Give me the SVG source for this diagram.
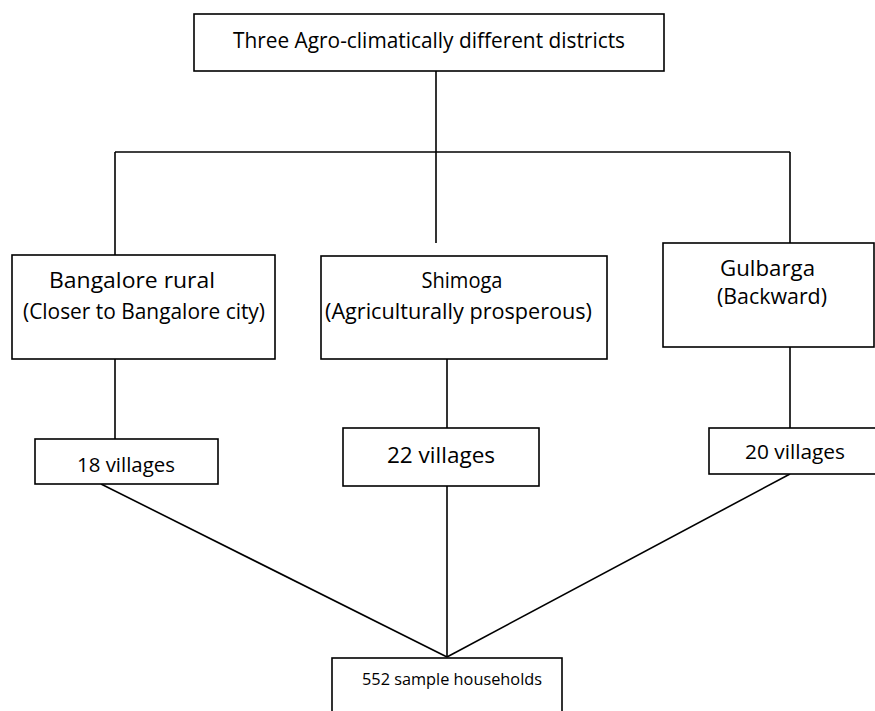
<svg xmlns="http://www.w3.org/2000/svg" width="875" height="711" viewBox="0 0 875 711">
  <style>
    .box { fill: #ffffff; stroke: #000000; stroke-width: 1.6; }
    .link { fill: none; stroke: #000000; stroke-width: 1.6; }
    text { font-family: "Open Sans", "Noto Sans", "Liberation Sans", sans-serif; fill: #000000; text-anchor: middle; }
    .lbl { font-size: 21px; }
  </style>
  <rect width="875" height="711" fill="#ffffff"/>

  <!-- connectors -->
  <g id="connectors" class="link">
    <line x1="436" y1="71" x2="436" y2="243"/>
    <line x1="115" y1="152" x2="790" y2="152"/>
    <line x1="115" y1="152" x2="115" y2="255"/>
    <line x1="790" y1="152" x2="790" y2="243"/>
    <line x1="115" y1="359" x2="115" y2="439"/>
    <line x1="447" y1="359" x2="447" y2="428"/>
    <line x1="790" y1="347" x2="790" y2="428"/>
    <line x1="101" y1="484" x2="447" y2="657"/>
    <line x1="447" y1="486" x2="447" y2="657"/>
    <line x1="790" y1="474" x2="447" y2="657"/>
  </g>

  <!-- root -->
  <g id="districts">
    <rect class="box" x="194" y="14" width="470" height="57"/>
    <text class="lbl" x="429" y="48" textLength="392" lengthAdjust="spacingAndGlyphs">Three Agro-climatically different districts</text>
  </g>

  <!-- district level -->
  <g id="bangalore">
    <rect class="box" x="12" y="255" width="263" height="104"/>
    <text class="lbl" x="132" y="288" textLength="166" lengthAdjust="spacingAndGlyphs">Bangalore rural</text>
    <text class="lbl" x="144" y="319" textLength="242" lengthAdjust="spacingAndGlyphs">(Closer to Bangalore city)</text>
  </g>
  <g id="shimoga">
    <rect class="box" x="321" y="256" width="286" height="103"/>
    <text class="lbl" x="462" y="288" textLength="81" lengthAdjust="spacingAndGlyphs">Shimoga</text>
    <text class="lbl" x="458.5" y="319" textLength="267" lengthAdjust="spacingAndGlyphs">(Agriculturally prosperous)</text>
  </g>
  <g id="gulbarga">
    <rect class="box" x="663" y="243" width="211" height="104"/>
    <text class="lbl" x="767.5" y="276" textLength="95" lengthAdjust="spacingAndGlyphs">Gulbarga</text>
    <text class="lbl" x="772" y="304" textLength="110" lengthAdjust="spacingAndGlyphs">(Backward)</text>
  </g>

  <!-- village level -->
  <g id="villages18">
    <rect class="box" x="35" y="439" width="183" height="45"/>
    <text x="126" y="472" font-size="20.3" textLength="98" lengthAdjust="spacingAndGlyphs">18 villages</text>
  </g>
  <g id="villages22">
    <rect class="box" x="343" y="428" width="196" height="58"/>
    <text x="441" y="463" font-size="22.4" textLength="108" lengthAdjust="spacingAndGlyphs">22 villages</text>
  </g>
  <g id="villages20">
    <rect class="box" x="709" y="428" width="170" height="46"/>
    <text x="795" y="459" font-size="20.7" textLength="100" lengthAdjust="spacingAndGlyphs">20 villages</text>
  </g>

  <!-- sample -->
  <g id="households">
    <rect class="box" x="332" y="658" width="230" height="60"/>
    <text x="452" y="685" font-size="16.3" textLength="180" lengthAdjust="spacingAndGlyphs">552 sample households</text>
  </g>
</svg>
